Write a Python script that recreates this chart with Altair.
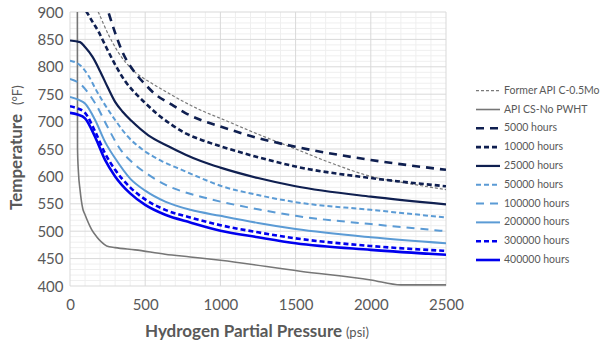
import altair as alt
import pandas as pd

# ---- data ----
series_names = ["Former API C-0.5Mo", "API CS-No PWHT", "5000 hours", "10000 hours",
                "25000 hours", "50000 hours", "100000 hours", "200000 hours",
                "300000 hours", "400000 hours"]

p_c05mo = [160, 188, 255, 322, 410, 543, 654, 765, 876, 1000, 1250, 1500, 1750, 2000, 2250, 2500]
t_c05mo = [917, 900, 859, 826, 796, 770, 752, 735, 720, 706, 677, 650, 623, 600, 587, 576]

p_cs = [49, 50, 56, 67, 85, 100, 144, 177, 210, 244, 300, 433, 632, 800, 1000, 1530, 2000, 2200, 2500]
t_cs = [905, 650, 608, 575, 541, 530, 503, 490, 480, 473, 470, 466, 458, 453, 447, 427, 411, 402, 402]

p_5000 = [230, 255, 300, 344, 433, 500, 566, 677, 765, 870, 1000, 1250, 1500, 2000, 2500]
t_5000 = [922, 900, 862, 830, 789, 768, 750, 731, 716, 703, 691, 670, 654, 630, 612]

p_10000 = [80, 111, 150, 188, 233, 300, 366, 455, 500, 588, 677, 765, 870, 1000, 1250, 1500, 2000, 2500]
t_10000 = [914, 900, 882, 865, 840, 804, 774, 746, 734, 712, 694, 679, 667, 655, 635, 618, 597, 582]

p_25000 = [0, 67, 100, 150, 200, 250, 300, 350, 410, 521, 654, 765, 870, 1000, 1250, 1500, 2000, 2500]
t_25000 = [848, 845, 836, 818, 792, 763, 736, 718, 701, 675, 655, 640, 628, 616, 597, 582, 563, 549]

p_50000 = [0, 67, 122, 177, 220, 300, 377, 477, 610, 743, 870, 1000, 1250, 1500, 2000, 2500]
t_50000 = [811, 803, 784, 756, 736, 703, 675, 650, 628, 612, 597, 583, 566, 553, 539, 525]

p_100000 = [0, 67, 122, 177, 250, 333, 433, 533, 633, 754, 870, 1000, 1250, 1500, 2000, 2500]
t_100000 = [778, 769, 752, 729, 690, 650, 621, 601, 585, 572, 563, 554, 540, 528, 513, 500]

p_200000 = [0, 55, 100, 167, 233, 300, 400, 500, 633, 800, 1000, 1250, 1500, 2000, 2500]
t_200000 = [745, 740, 733, 703, 663, 633, 596, 574, 554, 539, 528, 515, 504, 489, 478]

p_300000 = [0, 50, 100, 167, 233, 300, 400, 500, 633, 800, 1000, 1250, 1500, 2000, 2500]
t_300000 = [728, 724, 716, 682, 642, 612, 580, 558, 539, 525, 511, 498, 487, 473, 464]

p_400000 = [0, 50, 100, 167, 233, 300, 400, 500, 633, 800, 1000, 1250, 1500, 2000, 2500]
t_400000 = [716, 713, 706, 672, 630, 600, 569, 548, 530, 516, 501, 489, 478, 466, 457]

x_ticks = [0, 500, 1000, 1500, 2000, 2500]
y_ticks = [400, 450, 500, 550, 600, 650, 700, 750, 800, 850, 900]
x_minor = [v for v in range(0, 2501, 100) if v % 500 != 0]
y_minor = [v for v in range(400, 901, 10) if v % 50 != 0]

# ---- styles ----
navy = "#0f1f50"
light = "#5b9bd5"
blue = "#0000ee"
colors = ["#7a7a7a", "#767676", navy, navy, navy, light, light, light, blue, blue]
dashes = [[3, 2], None, [8, 6], [5, 3], None, [5, 3], [8, 6], None, [5, 3], None]
widths = [1.2, 1.6, 2.6, 2.6, 2.2, 2, 2, 2, 2.6, 2.6]

all_p = [p_c05mo, p_cs, p_5000, p_10000, p_25000, p_50000, p_100000, p_200000, p_300000, p_400000]
all_t = [t_c05mo, t_cs, t_5000, t_10000, t_25000, t_50000, t_100000, t_200000, t_300000, t_400000]

W, H = 376, 274
FONT = "Lato"
LABEL = "#595959"

xscale = alt.Scale(domain=[0, 2500], nice=False)
yscale = alt.Scale(domain=[400, 900], nice=False)

xaxis = alt.Axis(values=x_ticks, title=None, grid=False, ticks=False, domain=False, format="d",
                 labelOverlap=False, labelFlush=False, labelBound=False,
                 labelFont=FONT, labelFontSize=15, labelColor=LABEL, labelPadding=11)
yaxis = alt.Axis(values=y_ticks, title=None, grid=False, ticks=False, domain=False, format="d",
                 labelOverlap=False, labelFlush=False, labelBound=False,
                 labelFont=FONT, labelFontSize=15, labelColor=LABEL, labelPadding=7)

minor_x = alt.Chart(pd.DataFrame({"p": x_minor})).mark_rule(color="#efefef", strokeWidth=1).encode(
    x=alt.X("p:Q", scale=xscale, axis=xaxis))
minor_y = alt.Chart(pd.DataFrame({"t": y_minor})).mark_rule(color="#efefef", strokeWidth=1).encode(
    y=alt.Y("t:Q", scale=yscale, axis=yaxis))
major_x = alt.Chart(pd.DataFrame({"p": x_ticks})).mark_rule(color="#d9d9d9", strokeWidth=1).encode(
    x=alt.X("p:Q", scale=xscale, axis=xaxis))
major_y = alt.Chart(pd.DataFrame({"t": y_ticks})).mark_rule(color="#d9d9d9", strokeWidth=1).encode(
    y=alt.Y("t:Q", scale=yscale, axis=yaxis))

leg_yscale = alt.Scale(type="point", domain=series_names, range=[78.7, 248], padding=0)

line_layers = []
leg_layers = []
for name, ps, ts, c, d, w in zip(series_names, all_p, all_t, colors, dashes, widths):
    sdf = pd.DataFrame({"p": ps, "t": ts})
    kw = dict(clip=True, interpolate="monotone", color=c, strokeWidth=w)
    if d is not None:
        kw["strokeDash"] = d
    line_layers.append(alt.Chart(sdf).mark_line(**kw).encode(
        x=alt.X("p:Q", scale=xscale, axis=xaxis),
        y=alt.Y("t:Q", scale=yscale, axis=yaxis),
        order=alt.Order("p:Q")))
    lkw = dict(color=c, strokeWidth=w)
    if d is not None:
        lkw["strokeDash"] = d
    leg_layers.append(alt.Chart(pd.DataFrame({"series": [name]})).mark_rule(**lkw).encode(
        x=alt.value(406), x2=alt.value(430),
        y=alt.Y("series:N", axis=None, scale=leg_yscale)))

leg_df = pd.DataFrame({"series": series_names})
leg_text = alt.Chart(leg_df).mark_text(align="left", baseline="middle", font=FONT,
                                       fontSize=10.5, color=LABEL).encode(
    x=alt.value(434), y=alt.Y("series:N", axis=None, scale=leg_yscale), text="series:N")

tdf = pd.DataFrame({"a": [0]})
xt1 = alt.Chart(tdf).mark_text(text="Hydrogen Partial Pressure", align="left", baseline="alphabetic",
                               font=FONT, fontSize=17, fontWeight="bold", color=LABEL).encode(
    x=alt.value(75), y=alt.value(325))
xt2 = alt.Chart(tdf).mark_text(text="(psi)", align="left", baseline="alphabetic",
                               font=FONT, fontSize=13, color=LABEL).encode(
    x=alt.value(276), y=alt.value(325))
yt1 = alt.Chart(tdf).mark_text(text="Temperature", align="left", baseline="middle", angle=270,
                               font=FONT, fontSize=17, fontWeight="bold", color=LABEL).encode(
    x=alt.value(-53), y=alt.value(198))
yt2 = alt.Chart(tdf).mark_text(text="(°F)", align="left", baseline="middle", angle=270,
                               font=FONT, fontSize=13, color=LABEL).encode(
    x=alt.value(-52), y=alt.value(93))

main = alt.layer(minor_x, minor_y, major_x, major_y, *line_layers, xt1, xt2, yt1, yt2)
legend = alt.layer(*leg_layers, leg_text)
chart = alt.layer(main, legend).resolve_scale(y="independent").properties(
    width=W, height=H,
    autosize=alt.AutoSizeParams(type="none"),
    padding={"left": 70, "top": 12, "right": 154, "bottom": 62},
    background="white",
).configure_view(stroke=None)

chart.save("out.html", embed_options={"renderer": "svg", "actions": False})
